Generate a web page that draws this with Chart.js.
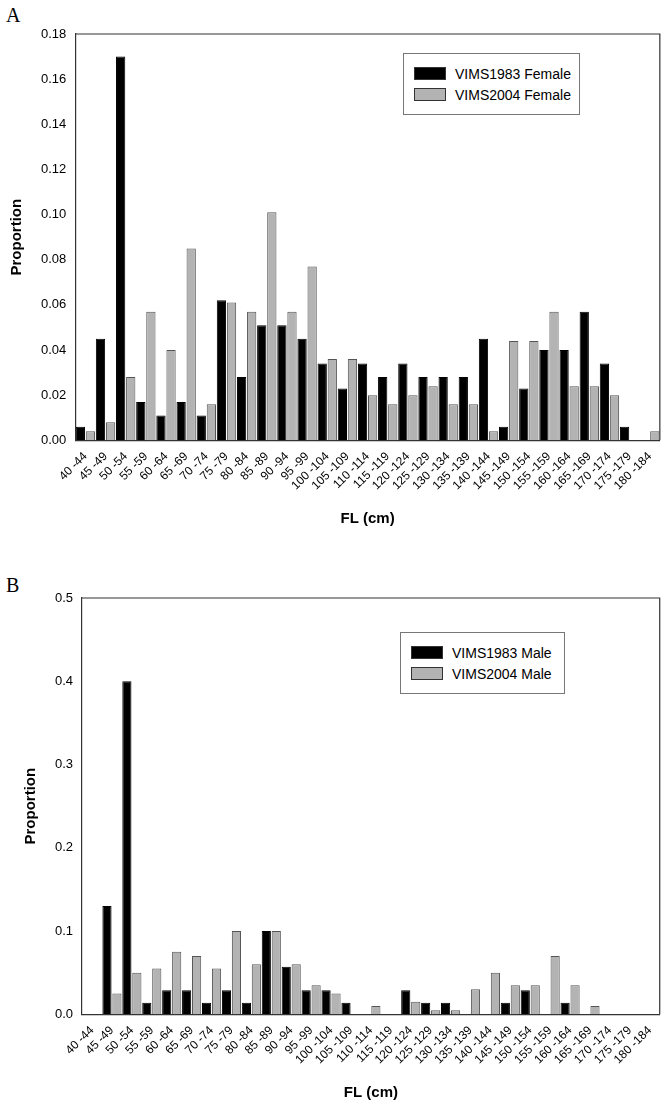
<!DOCTYPE html>
<html>
<head>
<meta charset="utf-8">
<script src="https://cdn.jsdelivr.net/npm/chart.js@4"></script>
<style>
  body { margin: 0; background: #fff; font-family: "Liberation Sans", Arial, sans-serif; }
  .panel { position: relative; width: 663px; height: 556px; }
  .letter { position: absolute; left: 6px; font-family: "Liberation Serif", serif; font-size: 20px; }
  canvas { position: absolute; left: 0; top: 0; }
  .legenda { position: absolute; box-sizing: border-box; border: 1px solid #777; background: #fff; padding: 9px 10px; font-size: 14px; z-index: 2; white-space: nowrap; }
  .legenda div { display: flex; align-items: center; height: 21px; }
  .legenda span.c { display: inline-block; flex: none; width: 30px; height: 11px; margin-right: 9px; border: 1px solid #333; }
</style>
</head>
<body>
<div class="panel"><div class="letter" style="top:4px">A</div><canvas id="chartA" width="663" height="556"></canvas>
  <div class="legenda" id="legA" style="left:403px; top:53px; width:177px"></div></div>
<div class="panel"><div class="letter" style="top:18px">B</div><canvas id="chartB" width="663" height="556"></canvas>
  <div class="legenda" id="legB" style="left:400px; top:76px; width:165px"></div></div>
<script>
const categorias = ['40 -44','45 -49','50 -54','55 -59','60 -64','65 -69','70 -74','75 -79','80 -84','85 -89','90 -94','95 -99','100 -104','105 -109','110 -114','115 -119','120 -124','125 -129','130 -134','135 -139','140 -144','145 -149','150 -154','155 -159','160 -164','165 -169','170 -174','175 -179','180 -184'];

const femea1983 = [0.006,0.045,0.170,0.017,0.011,0.017,0.011,0.062,0.028,0.051,0.051,0.045,0.034,0.023,0.034,0.028,0.034,0.028,0.028,0.028,0.045,0.006,0.023,0.040,0.040,0.057,0.034,0.006,0];
const femea2004 = [0.004,0.008,0.028,0.057,0.040,0.085,0.016,0.061,0.057,0.101,0.057,0.077,0.036,0.036,0.020,0.016,0.020,0.024,0.016,0.016,0.004,0.044,0.044,0.057,0.024,0.024,0.020,0,0.004];

const macho1983 = [0,0.130,0.400,0.014,0.029,0.029,0.014,0.029,0.014,0.100,0.057,0.029,0.029,0.014,0,0,0.029,0.014,0.014,0,0,0.014,0.029,0,0.014,0,0,0,0];
const macho2004 = [0,0.025,0.050,0.055,0.075,0.070,0.055,0.100,0.060,0.100,0.060,0.035,0.025,0,0.010,0,0.015,0.005,0.005,0.030,0.050,0.035,0.035,0.070,0.035,0.010,0,0,0];

const ticksA = [0,0.02,0.04,0.06,0.08,0.10,0.12,0.14,0.16,0.18];
const ticksB = [0,0.1,0.2,0.3,0.4,0.5];

const corPreta = '#000', corCinza = '#b3b3b3';

// desenha a moldura superior e direita
const moldura = {
    id: 'moldura',
    afterDraw(chart) {
        const a = chart.chartArea, ctx = chart.ctx;
        ctx.save();
        ctx.strokeStyle = '#333';
        ctx.lineWidth = 1.2;
        ctx.beginPath();
        ctx.moveTo(a.left, a.top);
        ctx.lineTo(a.right, a.top);
        ctx.lineTo(a.right, a.bottom);
        ctx.stroke();
        ctx.restore();
    }
};

function montarLegenda(id, nomes) {
    const cores = [corPreta, corCinza];
    document.getElementById(id).innerHTML = nomes.map((n, i) =>
        `<div><span class="c" style="background:${cores[i]}"></span>${n}</div>`).join('');
}

function criarGrafico(id, d1, d2, nomes, ticks, casas, pad) {
    new Chart(document.getElementById(id), {
        type: 'bar',
        data: {
            labels: categorias,
            datasets: [
                { label: nomes[0], data: d1, backgroundColor: corPreta, borderColor: '#000', borderWidth: 1 },
                { label: nomes[1], data: d2, backgroundColor: corCinza, borderColor: '#555', borderWidth: 1 }
            ]
        },
        options: {
            responsive: false,
            animation: false,
            layout: { padding: pad },
            datasets: { bar: { categoryPercentage: 1.0, barPercentage: 0.92 } },
            plugins: {
                legend: { display: false },
                tooltip: { enabled: false }
            },
            scales: {
                x: {
                    grid: { display: false, drawTicks: true, tickLength: 6 },
                    border: { color: '#333', width: 1.2 },
                    ticks: { color: '#000', font: { size: 12 }, maxRotation: 45, minRotation: 45, autoSkip: false },
                    title: { display: true, text: 'FL (cm)', color: '#000', font: { size: 15, weight: 'bold' }, padding: { top: 14 } }
                },
                y: {
                    min: 0,
                    max: ticks[ticks.length - 1],
                    afterBuildTicks: s => { s.ticks = ticks.map(v => ({ value: v })); },
                    grid: { display: false, drawTicks: true, tickLength: 6 },
                    border: { color: '#333', width: 1.2 },
                    ticks: { color: '#000', font: { size: 13 }, callback: v => v.toFixed(casas) },
                    title: { display: true, text: 'Proportion', color: '#000', font: { size: 15, weight: 'bold' }, padding: { bottom: 12 } }
                }
            }
        },
        plugins: [moldura]
    });
    montarLegenda(id === 'chartA' ? 'legA' : 'legB', nomes);
}

criarGrafico('chartA', femea1983, femea2004, ['VIMS1983 Female', 'VIMS2004 Female'], ticksA, 2, { top: 34, right: 3, left: 4, bottom: 24 });
criarGrafico('chartB', macho1983, macho2004, ['VIMS1983 Male', 'VIMS2004 Male'], ticksB, 1, { top: 42, right: 3, left: 18, bottom: 6 });
</script>
</body>
</html>
